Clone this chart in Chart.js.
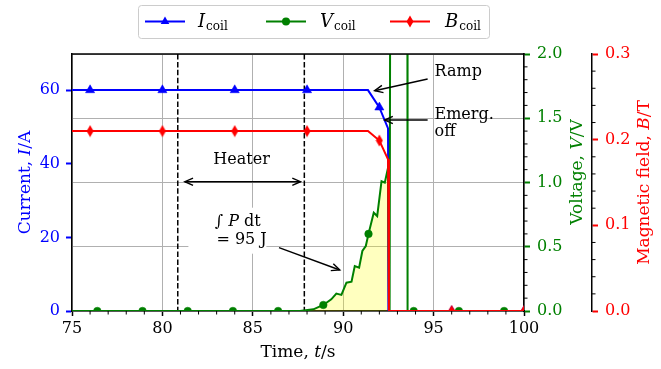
<!DOCTYPE html>
<html lang="en">
<head>
<meta charset="UTF-8">
<title>Coil quench</title>
<script src="https://cdn.jsdelivr.net/npm/chart.js"></script>
<style>
  html, body { margin: 0; padding: 0; background: #fff; }
  #wrap { width: 661px; height: 369px; position: relative; }
</style>
</head>
<body>
<div id="wrap"><canvas id="myChart"></canvas></div>
<script>
// current through the coil (A)
const timeI = [75, 76, 80, 84, 88, 91.37, 92.0, 92.48, 92.5, 96, 100];
const current = [60, 60, 60, 60, 60, 60, 55.3, 49.6, 0, 0, 0];
const marksI = [76, 80, 84, 88, 92, 96, 100];

// coil voltage (V)
const timeV = [75, 76.4, 78.9, 81.4, 83.9, 86.4, 87.6, 88.35, 88.9, 89.34, 89.62, 89.9, 90.18, 90.46,
  90.64, 90.88, 91.06, 91.25, 91.4, 91.69, 91.88, 92.12, 92.3, 92.48, 92.56, 92.6, 93.55, 93.56,
  93.9, 96.4, 98.9, 100];
const voltage = [0, 0, 0, 0, 0, 0, 0, 0.013, 0.047, 0.091, 0.135, 0.125, 0.22, 0.228,
  0.35, 0.337, 0.467, 0.506, 0.6, 0.765, 0.739, 1.01, 0.999, 1.115, -0.5, 2.6, 2.6, 0,
  0, 0, 0, 0];
const marksV = [76.4, 78.9, 81.4, 83.9, 86.4, 88.9, 91.4, 93.9, 96.4, 98.9];

// magnetic field (T)
const timeB = [75, 76, 80, 84, 88, 91.37, 92.0, 92.48, 92.53, 96, 100];
const field = [0.21, 0.21, 0.21, 0.21, 0.21, 0.21, 0.199, 0.177, 0, 0, 0];
const marksB = [76, 80, 84, 88, 92, 96, 100];

// heater on/off and the integrated region
const heaterTimes = [80.85, 87.85];
const fillRange = [87.6, 92.48];

const xTicks = [75, 80, 85, 90, 95, 100];
const iTicks = [0, 20, 40, 60];

const FONT = '"DejaVu Serif"';

function pts(ts, vs) { return ts.map((t, i) => ({ x: t, y: vs[i] })); }
function markRadius(marks, r) {
  return ctx => (ctx.raw && marks.includes(ctx.raw.x)) ? r : 0;
}

// thin diamond marker
const diamond = document.createElement('canvas');
diamond.width = 8; diamond.height = 13;
(function () {
  const c = diamond.getContext('2d');
  c.fillStyle = 'red';
  c.beginPath();
  c.moveTo(4, 0.5); c.lineTo(7.5, 6.5); c.lineTo(4, 12.5); c.lineTo(0.5, 6.5);
  c.closePath(); c.fill();
})();

const fillPts = pts(timeV, voltage).filter(p => p.x >= fillRange[0] && p.x <= fillRange[1]);

function drawRuns(ctx, runs, x, y, size) {
  let w = 0;
  runs.forEach(r => {
    ctx.font = (r.it ? 'italic ' : '') + size + 'px ' + FONT;
    w += ctx.measureText(r.t).width;
  });
  let cx = x - w / 2;
  ctx.textAlign = 'left';
  ctx.textBaseline = 'middle';
  runs.forEach(r => {
    ctx.font = (r.it ? 'italic ' : '') + size + 'px ' + FONT;
    ctx.fillText(r.t, cx, y);
    cx += ctx.measureText(r.t).width;
  });
}

function arrow(ctx, x1, y1, x2, y2, both) {
  ctx.beginPath();
  ctx.moveTo(x1, y1); ctx.lineTo(x2, y2);
  ctx.stroke();
  const head = (xa, ya, xb, yb) => {
    const a = Math.atan2(yb - ya, xb - xa);
    ctx.beginPath();
    ctx.moveTo(xb - 9 * Math.cos(a - 0.42), yb - 9 * Math.sin(a - 0.42));
    ctx.lineTo(xb, yb);
    ctx.lineTo(xb - 9 * Math.cos(a + 0.42), yb - 9 * Math.sin(a + 0.42));
    ctx.stroke();
  };
  head(x1, y1, x2, y2);
  if (both) head(x2, y2, x1, y1);
}

const decor = {
  id: 'decor',
  beforeDatasetsDraw(chart) {
    const { ctx, chartArea: a, scales } = chart;
    ctx.save();
    ctx.strokeStyle = '#000';
    ctx.lineWidth = 1.5;
    ctx.setLineDash([5.5, 2.4]);
    heaterTimes.forEach(t => {
      const x = scales.x.getPixelForValue(t);
      ctx.beginPath(); ctx.moveTo(x, a.top); ctx.lineTo(x, a.bottom); ctx.stroke();
    });
    ctx.restore();
  },
  afterDatasetsDraw(chart) {
    const { ctx, scales } = chart;
    const X = v => scales.x.getPixelForValue(v);
    const Y = v => scales.yV.getPixelForValue(v);
    ctx.save();
    ctx.fillStyle = '#000';
    ctx.strokeStyle = '#000';
    ctx.lineWidth = 1.4;
    ctx.font = '16px ' + FONT;
    ctx.textBaseline = 'middle';
    ctx.textAlign = 'left';
    ctx.fillText('Ramp', X(95.05), Y(1.86));
    ctx.fillText('Emerg.', X(95.05), Y(1.525));
    ctx.fillText('off', X(95.05), Y(1.393));
    arrow(ctx, X(94.67), Y(1.805), X(91.74), Y(1.714));
    arrow(ctx, X(94.67), Y(1.486), X(92.29), Y(1.486));
    ctx.textAlign = 'center';
    ctx.fillText('Heater', X(84.38), Y(1.18));
    arrow(ctx, X(81.24), Y(1.006), X(87.64), Y(1.006), true);
    // integral label with white box
    ctx.fillStyle = '#fff';
    ctx.fillRect(X(83.65) - 40, Y(0.695) - 14, 78, 46);
    ctx.fillStyle = '#000';
    drawRuns(ctx, [{ t: '\u222B ' }, { t: 'P', it: true }, { t: ' dt' }], X(84.17), Y(0.695), 16);
    drawRuns(ctx, [{ t: '= 95 J' }], X(84.38), Y(0.553), 16);
    arrow(ctx, X(86.45), Y(0.493), X(89.81), Y(0.319));
    ctx.restore();
  },
  afterDraw(chart) {
    const { ctx, chartArea: a, scales } = chart;
    ctx.save();
    // top spine
    ctx.strokeStyle = '#000';
    ctx.lineWidth = 1.5;
    ctx.beginPath(); ctx.moveTo(a.left - 0.75, a.top); ctx.lineTo(a.right + 0.75, a.top); ctx.stroke();
    // minor ticks
    ctx.lineWidth = 1;
    for (let t = 76; t < 100; t++) {
      if (t % 5 === 0) continue;
      const x = scales.x.getPixelForValue(t);
      ctx.beginPath(); ctx.moveTo(x, a.bottom); ctx.lineTo(x, a.bottom + 3.5); ctx.stroke();
    }
    for (let k = 1; k < 20; k++) {
      if (k % 5 === 0) continue;
      const y = scales.yV.getPixelForValue(k * 0.1);
      ctx.beginPath(); ctx.moveTo(a.right, y); ctx.lineTo(a.right + 3.5, y); ctx.stroke();
    }
    const bx = scales.yB.left;
    for (let k = 1; k < 15; k++) {
      if (k % 5 === 0) continue;
      const y = scales.yB.getPixelForValue(k * 0.02);
      ctx.beginPath(); ctx.moveTo(bx, y); ctx.lineTo(bx + 3.5, y); ctx.stroke();
    }
    // axis titles
    const midY = (a.top + a.bottom) / 2;
    ctx.fillStyle = '#000';
    drawRuns(ctx, [{ t: 'Time, ' }, { t: 't', it: true }, { t: '/s' }], (a.left + a.right) / 2, 353, 17);
    const rot = (x, y, runs, color) => {
      ctx.save();
      ctx.translate(x, y); ctx.rotate(-Math.PI / 2);
      ctx.fillStyle = color;
      drawRuns(ctx, runs, 0, 0, 17);
      ctx.restore();
    };
    rot(26, midY, [{ t: 'Current, ' }, { t: 'I', it: true }, { t: '/A' }], '#0000ff');
    rot(578, 172, [{ t: 'Voltage, ' }, { t: 'V', it: true }, { t: '/V' }], '#008000');
    rot(645, midY, [{ t: 'Magnetic field, ' }, { t: 'B', it: true }, { t: '/T' }], '#ff0000');
    // legend
    ctx.fillStyle = 'rgba(255,255,255,0.85)';
    ctx.strokeStyle = '#cccccc';
    ctx.lineWidth = 1;
    ctx.beginPath();
    ctx.roundRect(138.5, 5.5, 351, 33, 3);
    ctx.fill(); ctx.stroke();
    const items = [
      { x: 145, tx: 198, color: '#0000ff', sym: 'I', marker: 'tri' },
      { x: 266, tx: 320, color: '#008000', sym: 'V', marker: 'dot' },
      { x: 390, tx: 445, color: '#ff0000', sym: 'B', marker: 'dia' }
    ];
    items.forEach(it => {
      const y = 21.5;
      ctx.strokeStyle = it.color; ctx.fillStyle = it.color; ctx.lineWidth = 2;
      ctx.beginPath(); ctx.moveTo(it.x, y); ctx.lineTo(it.x + 40, y); ctx.stroke();
      const cx = it.x + 20;
      if (it.marker === 'tri') {
        ctx.beginPath(); ctx.moveTo(cx, y - 5); ctx.lineTo(cx + 4.3, y + 2.5); ctx.lineTo(cx - 4.3, y + 2.5);
        ctx.closePath(); ctx.fill();
      } else if (it.marker === 'dot') {
        ctx.beginPath(); ctx.arc(cx, y, 4, 0, Math.PI * 2); ctx.fill();
      } else {
        ctx.drawImage(diamond, cx - 4, y - 6.5);
      }
      ctx.fillStyle = '#000';
      ctx.textAlign = 'left'; ctx.textBaseline = 'alphabetic';
      ctx.font = 'italic 18px ' + FONT;
      ctx.fillText(it.sym, it.tx, 27);
      const w = ctx.measureText(it.sym).width;
      ctx.font = '12px ' + FONT;
      ctx.fillText('coil', it.tx + w + 1, 30);
    });
    ctx.restore();
  }
};

const ctx = document.getElementById('myChart').getContext('2d');
Chart.defaults.font.family = FONT;

new Chart(ctx, {
  type: 'line',
  data: {
    datasets: [
      {
        label: 'B_coil', data: pts(timeB, field), yAxisID: 'yB', order: 0,
        borderColor: '#ff0000', borderWidth: 2, backgroundColor: '#ff0000',
        pointStyle: diamond, pointRadius: markRadius(marksB, 5), pointHoverRadius: 0
      },
      {
        label: 'V_coil', data: pts(timeV, voltage), yAxisID: 'yV', order: 1,
        borderColor: '#008000', borderWidth: 2, backgroundColor: '#008000',
        pointBorderColor: '#008000', pointBorderWidth: 0.5,
        pointStyle: 'circle', pointRadius: markRadius(marksV, 3.8), pointHoverRadius: 0
      },
      {
        label: 'I_coil', data: pts(timeI, current), yAxisID: 'yI', order: 2,
        borderColor: '#0000ff', borderWidth: 2, backgroundColor: '#0000ff',
        pointBorderColor: '#0000ff', pointBorderWidth: 0.5,
        pointStyle: 'triangle', pointRadius: markRadius(marksI, 5.3), pointHoverRadius: 0
      },
      {
        label: 'energy', data: fillPts, yAxisID: 'yV', order: 3,
        borderWidth: 0, pointRadius: 0, fill: 'origin',
        backgroundColor: 'rgba(255,255,0,0.25)'
      }
    ]
  },
  options: {
    responsive: true,
    maintainAspectRatio: false,
    animation: false,
    events: [],
    layout: { padding: { top: 54, left: 0, right: 0, bottom: 0 } },
    plugins: { legend: { display: false }, tooltip: { enabled: false } },
    elements: { line: { tension: 0 } },
    scales: {
      x: {
        type: 'linear', min: 75, max: 100,
        afterFit: s => { s.height = 58; },
        afterBuildTicks: s => { s.ticks = xTicks.map(v => ({ value: v })); },
        ticks: { color: '#000', font: { size: 16 }, padding: 3, maxRotation: 0 },
        grid: { color: '#b0b0b0', lineWidth: 1, tickColor: '#000', tickLength: 5, tickWidth: 1.5 },
        border: { color: '#000', width: 1.5 }
      },
      yI: {
        position: 'left', min: 0, max: 69.8,
        afterFit: s => { s.width = 72; },
        afterBuildTicks: s => { s.ticks = iTicks.map(v => ({ value: v })); },
        ticks: { color: '#0000ff', font: { size: 16 }, padding: 6 },
        grid: { drawOnChartArea: false, tickColor: '#0000ff', tickLength: 6, tickWidth: 2 },
        border: { color: '#000', width: 1.5 }
      },
      yV: {
        position: 'right', weight: 0, min: 0, max: 2,
        afterFit: s => { s.width = 68; },
        ticks: { color: '#008000', font: { size: 16 }, padding: 7, stepSize: 0.5,
          callback: v => v.toFixed(1) },
        grid: { color: '#b0b0b0', lineWidth: 1, tickColor: '#008000', tickLength: 6, tickWidth: 2 },
        border: { color: '#000', width: 1.5 }
      },
      yB: {
        position: 'right', weight: 1, min: 0, max: 0.3,
        afterFit: s => { s.width = 69; },
        ticks: { color: '#ff0000', font: { size: 16 }, padding: 7, stepSize: 0.1,
          callback: v => v.toFixed(1) },
        grid: { drawOnChartArea: false, tickColor: '#ff0000', tickLength: 6, tickWidth: 2 },
        border: { color: '#000', width: 1.5 }
      }
    }
  },
  plugins: [decor]
});
</script>
</body>
</html>
